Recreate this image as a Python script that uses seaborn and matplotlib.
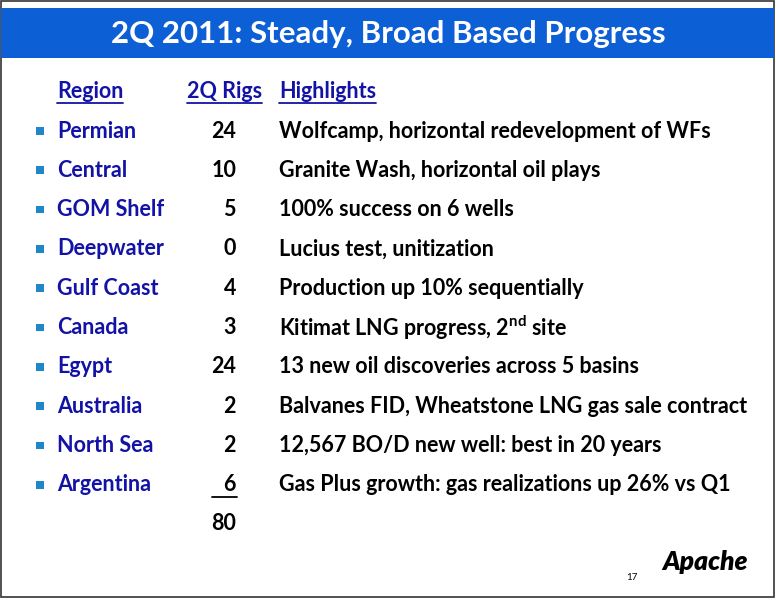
import matplotlib
matplotlib.use("Agg")
import matplotlib.pyplot as plt
import seaborn as sns
import pandas as pd
from matplotlib.patches import Rectangle

regions = ["Permian", "Central", "GOM Shelf", "Deepwater", "Gulf Coast", "Canada",
           "Egypt", "Australia", "North Sea", "Argentina"]
rigs = [24, 10, 5, 0, 4, 3, 24, 2, 2, 6]
highlights = ["Wolfcamp, horizontal redevelopment of WFs",
              "Granite Wash, horizontal oil plays",
              "100% success on 6 wells",
              "Lucius test, unitization",
              "Production up 10% sequentially",
              "Kitimat LNG progress, 2$^{\\mathregular{nd}}$ site",
              "13 new oil discoveries across 5 basins",
              "Balvanes FID, Wheatstone LNG gas sale contract",
              "12,567 BO/D new well: best in 20 years",
              "Gas Plus growth: gas realizations up 26% vs Q1"]
headers = ["Region", "2Q Rigs", "Highlights"]
title = "2Q 2011: Steady, Broad Based Progress"
total = 80

sns.set_theme(style="white")
plt.rcParams['font.family'] = ['Lato', 'DejaVu Sans']

fig = plt.figure(figsize=(7.76, 6), dpi=100)
ax = fig.add_axes([0, 0, 1, 1])
ax.set_xlim(0, 776)
ax.set_ylim(600, 0)
ax.axis("off")

ax.add_patch(Rectangle((1, 1), 773, 596, fill=False, edgecolor="#333333", lw=1.2))
ax.add_patch(Rectangle((1, 8), 773, 50, color="#0D5FD6", lw=0))
ax.text(388, 34, title, ha="center", va="center", color="white", fontsize=22.5, fontweight="bold")

blue = "#1212A6"
fs = 15.5
hy = 92
for x, h, ha in [(57, headers[0], "left"), (262, headers[1], "right"), (279, headers[2], "left")]:
    ax.text(x, hy, h, ha=ha, va="center", color=blue, fontsize=fs, fontweight="bold")
fig.canvas.draw()
r = fig.canvas.get_renderer()
for t in ax.texts[1:]:
    bb = t.get_window_extent(r)
    ax.plot([bb.x0, bb.x1], [hy + 11, hy + 11], color=blue, lw=1.3)

ys = [131 + i * 39.3 for i in range(len(regions))]
df = pd.DataFrame({"x": [40] * len(ys), "y": ys})
sns.scatterplot(data=df, x="x", y="y", marker="s", s=30, color="#1F86C8", edgecolor="none", ax=ax)
ax.set_xlim(0, 776); ax.set_ylim(600, 0); ax.axis("off")
for y, reg, rg, hl in zip(ys, regions, rigs, highlights):
    ax.text(57, y, reg, ha="left", va="center", color=blue, fontsize=fs, fontweight="bold")
    ax.text(236, y, str(rg), ha="right", va="center", color="black", fontsize=fs, fontweight="bold")
    ax.text(279, y, hl, ha="left", va="center", color="black", fontsize=fs, fontweight="bold")
ax.plot([212, 237], [ys[-1] + 12, ys[-1] + 12], color="black", lw=1.3)
ax.text(236, 524, str(total), ha="right", va="center", color="black", fontsize=fs, fontweight="bold")

ax.text(632, 578, "17", ha="center", va="center", fontsize=7, color="black")
ax.text(705, 562, "Apache", ha="center", va="center", fontsize=19, fontweight="heavy",
        fontstyle="italic", color="black")

fig.savefig("out.png", dpi=100)
